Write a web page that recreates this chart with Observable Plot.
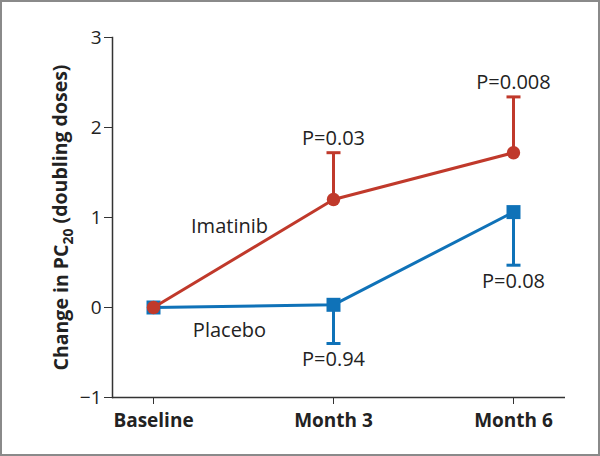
<!DOCTYPE html>
<html>
<head>
<meta charset="utf-8">
<script src="https://cdn.jsdelivr.net/npm/d3@7"></script>
<script src="https://cdn.jsdelivr.net/npm/@observablehq/plot@0.6"></script>
<style>
  html, body { margin: 0; padding: 0; background: #fff; }
  #wrap { position: relative; width: 600px; height: 456px; overflow: hidden; }
  #border { position: absolute; left: 0; top: 0; width: 600px; height: 456px; box-sizing: border-box; border: 2px solid #8a8a8a; pointer-events: none; }
</style>
</head>
<body>
<div id="wrap"><div id="chart"></div><div id="border"></div></div>
<script>
const categories = ["Baseline", "Month 3", "Month 6"];
const imatinib = [0, 1.20, 1.72];
const placebo = [0, 0.03, 1.06];
const imatinibErrHigh = [null, 1.72, 2.34];
const placeboErrLow = [null, -0.40, 0.47];
const imatinibP = [null, "P=0.03", "P=0.008"];
const placeboP = [null, "P=0.94", "P=0.08"];
const yTicks = [-1, 0, 1, 2, 3];
const seriesNames = ["Imatinib", "Placebo"];

const red = "#c0392b";
const blue = "#0f72b8";
const font = "'Open Sans', Lato, sans-serif";

const imData = categories.map((c, i) => ({x: c, y: imatinib[i], hi: imatinibErrHigh[i], p: imatinibP[i]}));
const plData = categories.map((c, i) => ({x: c, y: placebo[i], lo: placeboErrLow[i], p: placeboP[i]}));
const imErr = imData.filter(d => d.hi != null);
const plErr = plData.filter(d => d.lo != null);

const capSymbol = {draw(ctx, size) { const w = 7; ctx.moveTo(-w, 0); ctx.lineTo(w, 0); }};

const chart = Plot.plot({
  width: 600,
  height: 456,
  marginLeft: 112,
  marginRight: 35,
  marginTop: 37,
  marginBottom: 59,
  style: {fontFamily: font, background: "transparent", overflow: "visible"},
  x: {type: "point", domain: categories, range: [152, 513], padding: 0},
  y: {domain: [-1, 3]},
  marks: [
    Plot.frame({anchor: "left", stroke: "#333", strokeWidth: 1.5}),
    Plot.ruleY([-1], {stroke: "#333", strokeWidth: 1.5}),
    Plot.axisY({ticks: yTicks, tickSize: 8, tickPadding: 3, fontSize: 19, tickFormat: d => d < 0 ? "\u2212" + Math.abs(d) : String(d), stroke: "#333", color: "#222",
      label: "Change in PC20 (doubling doses)", labelAnchor: "center", labelArrow: false, labelOffset: 58}),
    Plot.axisX({tickSize: 7, tickPadding: 9, fontSize: 19, fontWeight: "bold", stroke: "#333", color: "#222", label: null}),
    // Placebo
    Plot.ruleX(plErr, {x: "x", y1: "y", y2: "lo", stroke: blue, strokeWidth: 3}),
    Plot.dot(plErr, {x: "x", y: "lo", symbol: capSymbol, stroke: blue, strokeWidth: 3, r: 5}),
    Plot.line(plData, {x: "x", y: "y", stroke: blue, strokeWidth: 3}),
    Plot.dot(plData, {x: "x", y: "y", symbol: "square", fill: blue, r: 7.9}),
    Plot.text(plErr, {x: "x", y: "lo", text: "p", dy: 16, fontSize: 20, fill: "#222"}),
    // Imatinib
    Plot.ruleX(imErr, {x: "x", y1: "y", y2: "hi", stroke: red, strokeWidth: 3}),
    Plot.dot(imErr, {x: "x", y: "hi", symbol: capSymbol, stroke: red, strokeWidth: 3, r: 5}),
    Plot.line(imData, {x: "x", y: "y", stroke: red, strokeWidth: 3}),
    Plot.dot(imData, {x: "x", y: "y", symbol: "circle", fill: red, r: 6.7}),
    Plot.text(imErr, {x: "x", y: "hi", text: "p", dy: -14, fontSize: 20, fill: "#222"}),
    // Series labels
    Plot.text([seriesNames[0]], {x: () => categories[1], y: () => 1.0, text: d => d, dx: -104, dy: 9, fontSize: 20, fill: "#222"}),
    Plot.text([seriesNames[1]], {x: () => categories[1], y: () => 0, text: d => d, dx: -104, dy: 23, fontSize: 20, fill: "#222"})
  ]
});

document.getElementById("chart").appendChild(chart);

// subscript in y-axis label
d3.select(chart).selectAll('g[aria-label="y-axis label"] text').each(function() {
  const t = d3.select(this);
  t.text(null).attr("font-weight", "bold").attr("font-size", 19.5);
  t.append("tspan").text("Change in PC");
  t.append("tspan").attr("dy", "0.3em").attr("font-size", 14).text("20");
  t.append("tspan").attr("dy", "-0.3em").text(" (doubling doses)");
});
</script>
</body>
</html>
